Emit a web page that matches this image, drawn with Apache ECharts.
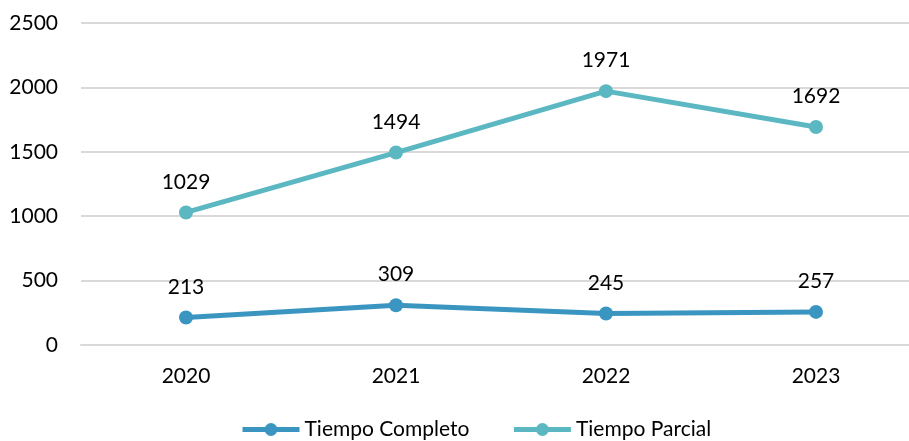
<!DOCTYPE html>
<html>
<head>
<meta charset="utf-8">
<script src="https://cdn.jsdelivr.net/npm/echarts@6/dist/echarts.min.js"></script>
<style>
  html, body { margin: 0; padding: 0; background: #fff; }
  #chart { width: 909px; height: 441px; }
</style>
</head>
<body>
<div id="chart"></div>
<script>
const years = ['2020', '2021', '2022', '2023']
const tiempoCompleto = [213, 309, 245, 257]
const tiempoParcial = [1029, 1494, 1971, 1692]

const font = 'Lato, "Open Sans", sans-serif'

const chart = echarts.init(document.getElementById('chart'))
chart.setOption({
    animation: false,
    textStyle: { fontFamily: font },
    grid: { left: 81, top: 23, width: 840, height: 322, outerBoundsMode: 'none', containLabel: false },
    legend: {
        bottom: -4,
        left: 235,
        itemWidth: 57,
        itemHeight: 16,
        itemGap: 42,
        lineStyle: { width: 5 },
        textStyle: { fontSize: 21, color: '#000', fontFamily: font },
        data: ['Tiempo Completo', 'Tiempo Parcial']
    },
    xAxis: {
        type: 'category',
        data: years,
        axisLine: { lineStyle: { color: '#d9d9d9', width: 2 } },
        axisTick: { show: false },
        axisLabel: { fontSize: 21, color: '#000', margin: 21 }
    },
    yAxis: {
        type: 'value',
        min: 0,
        max: 2500,
        interval: 500,
        axisLine: { show: false },
        axisTick: { show: false },
        splitLine: { lineStyle: { color: '#d9d9d9', width: 2 } },
        axisLabel: { fontSize: 21, color: '#000', margin: 23, formatter: v => String(v) }
    },
    series: [
        {
            name: 'Tiempo Completo',
            type: 'line',
            data: tiempoCompleto,
            symbol: 'circle',
            symbolSize: 14,
            color: '#3a96c0',
            lineStyle: { width: 5 },
            label: { show: true, position: 'top', distance: 13, fontSize: 21, color: '#000' }
        },
        {
            name: 'Tiempo Parcial',
            type: 'line',
            data: tiempoParcial,
            symbol: 'circle',
            symbolSize: 14,
            color: '#5bb8c2',
            lineStyle: { width: 5 },
            label: { show: true, position: 'top', distance: 13, fontSize: 21, color: '#000' }
        }
    ]
})
</script>
</body>
</html>
